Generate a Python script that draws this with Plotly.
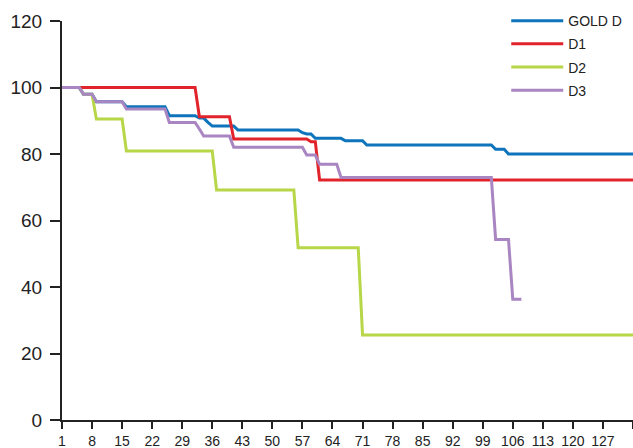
import plotly.graph_objects as go

# ---- data (event day = first day at the new value) ----
series_names = ["GOLD D", "D1", "D2", "D3"]
series_colors = ["#0E74BC", "#E1232B", "#B7D648", "#A985C2"]

gold_days = [1, 6, 9, 16, 26, 33, 35, 36, 42, 57, 58, 60, 67, 72, 102, 105]
gold_vals = [100, 98.0, 95.7, 94.2, 91.5, 90.8, 89.5, 88.4, 87.2, 86.4, 86.0, 84.7, 84.0, 82.7, 81.4, 80.0]
gold_end = 134

d1_days = [1, 33, 41, 59, 61]
d1_vals = [100, 91.2, 84.5, 83.7, 72.2]
d1_end = 134

d2_days = [1, 6, 9, 16, 37, 56, 71]
d2_vals = [100, 98.0, 90.5, 80.9, 69.2, 51.8, 25.6]
d2_end = 134

d3_days = [1, 6, 9, 16, 26, 33, 34, 41, 58, 61, 66, 102, 106]
d3_vals = [100, 98.0, 95.7, 93.5, 89.5, 87.5, 85.4, 82.0, 79.7, 76.9, 72.9, 54.3, 36.3]
d3_end = 108

x_tick_vals = [1, 8, 15, 22, 29, 36, 43, 50, 57, 64, 71, 78, 85, 92, 99, 106, 113, 120, 127, 134]
x_tick_text = ["1", "8", "15", "22", "29", "36", "43", "50", "57", "64", "71", "78", "85", "92", "99",
               "106", "113", "120", "127", ""]
y_tick_vals = [0, 20, 40, 60, 80, 100, 120]


def daily_path(days, vals, end):
    xs, ys = [], []
    for i, (d, v) in enumerate(zip(days, vals)):
        xs.append(d)
        ys.append(v)
        nxt = days[i + 1] - 1 if i + 1 < len(days) else end
        if nxt > d:
            xs.append(nxt)
            ys.append(v)
    return xs, ys


all_series = [
    (gold_days, gold_vals, gold_end),
    (d1_days, d1_vals, d1_end),
    (d2_days, d2_vals, d2_end),
    (d3_days, d3_vals, d3_end),
]

fig = go.Figure()
for name, color, (days, vals, end) in zip(series_names, series_colors, all_series):
    xs, ys = daily_path(days, vals, end)
    fig.add_trace(go.Scatter(x=xs, y=ys, mode="lines", name=name, legendgroup=name,
                             line=dict(color=color, width=3)))

fig.update_layout(
    width=633, height=448,
    margin=dict(l=62, r=0, t=21, b=28, autoexpand=False),
    plot_bgcolor="white", paper_bgcolor="white",
    font=dict(family="Liberation Sans, Arial, sans-serif", color="#222222"),
    showlegend=True,
    legend=dict(x=0.778, y=1.04, xanchor="left", yanchor="top", itemwidth=52,
                bgcolor="rgba(0,0,0,0)", font=dict(size=14, color="#222222"),
                traceorder="grouped", tracegroupgap=2),
    xaxis=dict(range=[1, 134], tickmode="array", tickvals=x_tick_vals, ticktext=x_tick_text,
               showline=True, linecolor="#222222", linewidth=2, ticks="outside",
               ticklen=7, tickwidth=2, tickcolor="#222222", showgrid=False, zeroline=False,
               tickfont=dict(size=14), automargin=False),
    yaxis=dict(range=[0, 120], tickmode="array", tickvals=y_tick_vals,
               showline=True, linecolor="#222222", linewidth=2, ticks="outside",
               ticklen=10, tickwidth=2, tickcolor="#222222", showgrid=False, zeroline=False,
               tickfont=dict(size=19), automargin=False, ticklabelstandoff=4),
)

fig.write_html("out.html", config={"displayModeBar": False},
               post_script="document.body.style.margin='0';")
